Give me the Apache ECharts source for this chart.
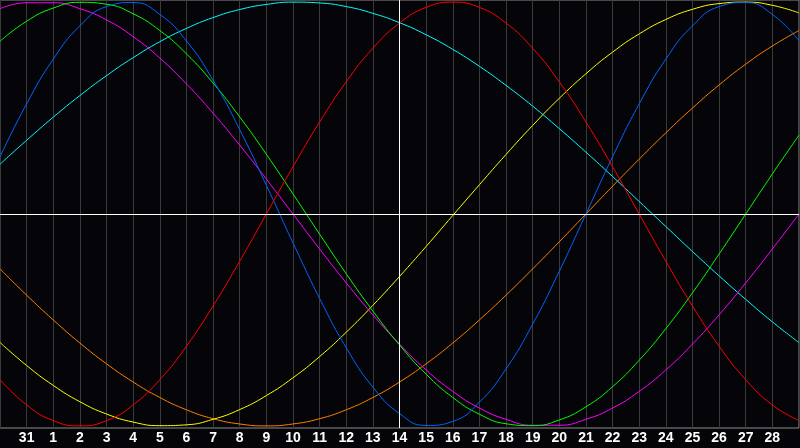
<!DOCTYPE html>
<html>
<head>
<meta charset="utf-8">
<script src="https://cdn.jsdelivr.net/npm/echarts@6/dist/echarts.min.js"></script>
<style>
html,body{margin:0;padding:0;background:#050409;}
#chart{width:800px;height:448px;}
</style>
</head>
<body>
<div id="chart"></div>
<script>
// Day tick labels (index 0 and 30 are the unlabeled edges)
const dayLabels = ['', '31', '1', '2', '3', '4', '5', '6', '7', '8', '9', '10', '11', '12', '13', '14',
  '15', '16', '17', '18', '19', '20', '21', '22', '23', '24', '25', '26', '27', '28', ''];

// Curve values per day
const physical = [0.27, 0.52, 0.731, 0.888, 0.979, 0.998, 0.942, 0.817, 0.631, 0.398, 0.136, -0.136, -0.398,
  -0.631, -0.817, -0.942, -0.998, -0.979, -0.888, -0.731, -0.52, -0.27, 0, 0.27, 0.52, 0.731, 0.888, 0.979,
  0.998, 0.942, 0.817];
const emotional = [-0.782, -0.901, -0.975, -1, -0.975, -0.901, -0.782, -0.624, -0.434, -0.223, 0, 0.223, 0.434,
  0.624, 0.782, 0.901, 0.975, 1, 0.975, 0.901, 0.782, 0.624, 0.434, 0.223, 0, -0.223, -0.434, -0.624, -0.782,
  -0.901, -0.975];
const intellectual = [0.815, 0.91, 0.972, 0.999, 0.99, 0.945, 0.866, 0.756, 0.618, 0.458, 0.282, 0.095, -0.095,
  -0.282, -0.458, -0.618, -0.756, -0.866, -0.945, -0.99, -0.999, -0.972, -0.91, -0.815, -0.69, -0.541, -0.372,
  -0.189, 0, 0.189, 0.372];
const intuitive = [0.969, 0.997, 0.997, 0.969, 0.916, 0.837, 0.736, 0.614, 0.476, 0.325, 0.165, 0, -0.165,
  -0.325, -0.476, -0.614, -0.736, -0.837, -0.916, -0.969, -0.997, -0.997, -0.969, -0.916, -0.837, -0.736,
  -0.614, -0.476, -0.325, -0.165, 0];
const spiritual = [0.235, 0.348, 0.457, 0.559, 0.653, 0.738, 0.813, 0.876, 0.927, 0.965, 0.989, 1, 0.996,
  0.979, 0.947, 0.903, 0.846, 0.777, 0.697, 0.607, 0.509, 0.403, 0.292, 0.177, 0.059, -0.059, -0.177, -0.292,
  -0.403, -0.509, -0.607];
const aesthetic = [-0.606, -0.715, -0.809, -0.886, -0.944, -0.982, -0.999, -0.995, -0.969, -0.923, -0.857,
  -0.773, -0.673, -0.558, -0.431, -0.295, -0.153, -0.007, 0.138, 0.281, 0.418, 0.546, 0.662, 0.764, 0.85,
  0.918, 0.966, 0.993, 1, 0.985, 0.949];
const awareness = [-0.259, -0.383, -0.5, -0.609, -0.707, -0.793, -0.866, -0.924, -0.966, -0.991, -1, -0.991,
  -0.966, -0.924, -0.866, -0.793, -0.707, -0.609, -0.5, -0.383, -0.259, -0.131, 0, 0.131, 0.259, 0.383, 0.5,
  0.609, 0.707, 0.793, 0.866];

const todayIndex = 15;

const curves = [
  { name: 'awareness', data: awareness, color: '#ff8000' },
  { name: 'aesthetic', data: aesthetic, color: '#ffff00' },
  { name: 'spiritual', data: spiritual, color: '#00ffff' },
  { name: 'intuitive', data: intuitive, color: '#ff00ff' },
  { name: 'intellectual', data: intellectual, color: '#00ff00' },
  { name: 'physical', data: physical, color: '#0066ff' },
  { name: 'emotional', data: emotional, color: '#ff0000' }
];

const series = curves.map((c, idx) => ({
  name: c.name,
  type: 'line',
  smooth: 0.5,
  symbol: 'none',
  silent: true,
  lineStyle: { color: c.color, width: 1 },
  data: c.data.map((v, i) => [i, v]),
  markLine: idx === curves.length - 1 ? {
    silent: true,
    symbol: ['none', 'none'],
    label: { show: false },
    lineStyle: { color: '#ffffff', width: 1, type: 'solid' },
    data: [{ yAxis: 0 }, { xAxis: todayIndex }]
  } : undefined
}));

const chart = echarts.init(document.getElementById('chart'), null, { renderer: 'canvas' });
chart.setOption({
  animation: false,
  backgroundColor: '#050409',
  grid: { left: 0, right: 1, top: 0, bottom: 20, show: true, borderColor: '#8c8c8c', borderWidth: 1, backgroundColor: 'transparent' },
  xAxis: {
    type: 'value',
    min: 0,
    max: 30,
    interval: 1,
    axisLine: { show: true, lineStyle: { color: '#8c8c8c' } },
    axisTick: { show: false },
    splitLine: { show: true, lineStyle: { color: '#3a3a3a', width: 1 } },
    axisLabel: {
      show: true,
      margin: 3,
      color: '#ffffff',
      fontWeight: 'bold',
      fontSize: 14,
      fontFamily: "'Liberation Sans Narrow', 'Liberation Sans', sans-serif",
      showMinLabel: false,
      showMaxLabel: false,
      formatter: (v) => dayLabels[Math.round(v)] || ''
    }
  },
  yAxis: {
    type: 'value',
    min: -1.01,
    max: 1.01,
    axisLine: { show: false },
    axisTick: { show: false },
    axisLabel: { show: false },
    splitLine: { show: false }
  },
  series: series
});
</script>
</body>
</html>
